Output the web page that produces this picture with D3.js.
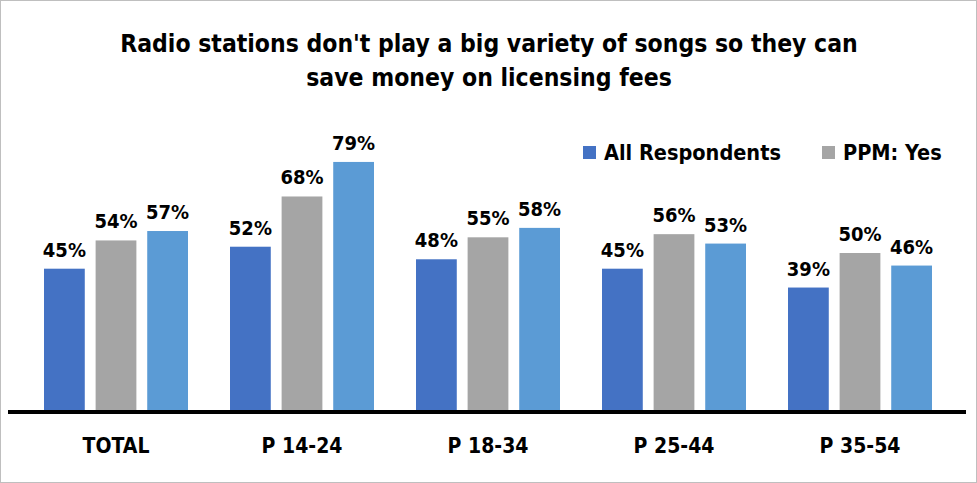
<!DOCTYPE html>
<html>
<head>
<meta charset="utf-8">
<script src="https://cdn.jsdelivr.net/npm/d3@7"></script>
<style>
  body { margin: 0; background: white; }
  text { font-family: "Liberation Sans Narrow", "DejaVu Sans Condensed", "Roboto Condensed", sans-serif; font-weight: bold; }
</style>
</head>
<body>
<div id="chart"></div>
<script>
const categories = ["TOTAL", "P 14-24", "P 18-34", "P 25-44", "P 35-54"]
const seriesNames = ["All Respondents", "PPM: Yes", "PPM: No"]
const allRespondents = [45, 52, 48, 45, 39]
const ppmYes = [54, 68, 55, 56, 50]
const ppmNo = [57, 79, 58, 53, 46]
const legendNames = ["All Respondents", "PPM: Yes"]

const colors = ["#4472C4", "#A5A5A5", "#5B9BD5"]
const width = 977, height = 483

const svg = d3.select("#chart").append("svg")
    .attr("width", width)
    .attr("height", height)

// frame
svg.append("rect")
    .attr("x", 0.5).attr("y", 0.5)
    .attr("width", width - 1).attr("height", height - 1)
    .style("fill", "white")
    .style("stroke", "#bfbfbf")

// title
const title = svg.append("text")
    .attr("x", 489)
    .attr("text-anchor", "middle")
    .style("font-size", "24.5px")
    .style("fill", "black")
title.append("tspan").attr("x", 489).attr("y", 52)
    .text("Radio stations don't play a big variety of songs so they can")
title.append("tspan").attr("x", 489).attr("y", 86)
    .text("save money on licensing fees")

const x0 = d3.scaleBand()
    .domain(categories)
    .range([23, 953])
    .paddingInner(0)
    .paddingOuter(0)

const x1 = d3.scaleBand()
    .domain(seriesNames)
    .range([21, x0.bandwidth() - 21])
    .paddingInner(0.21)

const y = d3.scaleLinear()
    .domain([0, 100])
    .range([410, 96])

const data = categories.map((c, i) => ({
    category: c,
    values: [allRespondents[i], ppmYes[i], ppmNo[i]]
}))

const groups = svg.selectAll("g.group")
    .data(data)
    .enter().append("g")
    .attr("class", "group")
    .attr("transform", d => "translate(" + x0(d.category) + ",0)")

groups.selectAll("rect")
    .data(d => d.values.map((v, j) => ({ name: seriesNames[j], value: v, j: j })))
    .enter().append("rect")
    .attr("x", d => x1(d.name))
    .attr("y", d => y(d.value))
    .attr("width", x1.bandwidth())
    .attr("height", d => y(0) - y(d.value))
    .style("fill", d => colors[d.j])

groups.selectAll("text.label")
    .data(d => d.values.map((v, j) => ({ name: seriesNames[j], value: v })))
    .enter().append("text")
    .attr("class", "label")
    .attr("x", d => x1(d.name) + x1.bandwidth() / 2)
    .attr("y", d => y(d.value) - 12)
    .attr("text-anchor", "middle")
    .style("font-size", "20px")
    .text(d => d.value + "%")

// baseline axis
const xAxis = svg.append("g")
    .attr("transform", "translate(0," + y(0) + ")")
    .call(d3.axisBottom(x0).tickSize(0).tickPadding(28))
xAxis.select(".domain").remove()
xAxis.attr("font-family", null)
xAxis.selectAll("text")
    .style("font-size", "21px")
    .style("fill", "black")

svg.append("line")
    .attr("x1", 8).attr("x2", 966)
    .attr("y1", y(0) + 2).attr("y2", y(0) + 2)
    .style("stroke", "black")
    .style("stroke-width", 4)

// legend
const legend = svg.append("g")
const legendX = [583, 822]
legendNames.forEach((name, i) => {
    const g = legend.append("g").attr("transform", "translate(" + legendX[i] + ",146)")
    g.append("rect")
        .attr("width", 13).attr("height", 13)
        .style("fill", colors[i])
    g.append("text")
        .attr("x", 21).attr("y", 14)
        .style("font-size", "21.5px")
        .text(name)
})
</script>
</body>
</html>
